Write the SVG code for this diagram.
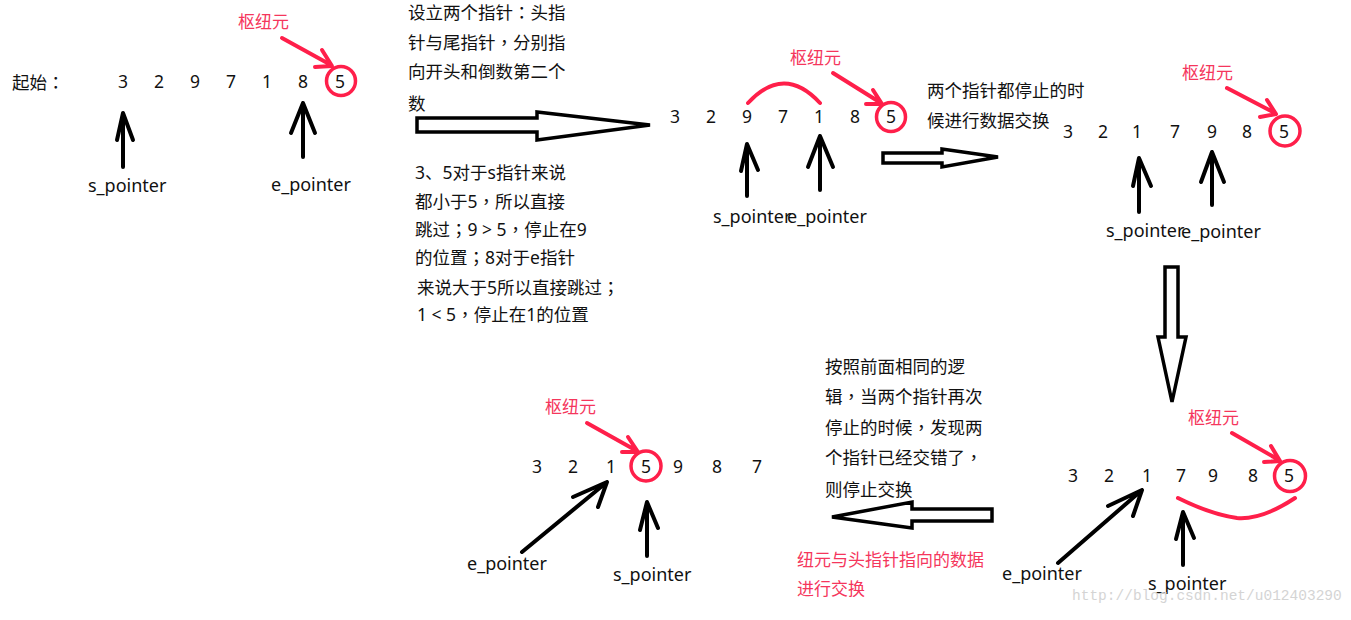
<svg xmlns="http://www.w3.org/2000/svg" width="1351" height="620" viewBox="0 0 1351 620">
<style>
.t{font-family:"Noto Sans","Noto Sans CJK SC",sans-serif;font-size:17.5px;fill:#111}
.p{font-family:"Noto Sans CJK TC","Noto Sans CJK SC",sans-serif}
.n{font-family:"Noto Sans","Noto Sans CJK SC",sans-serif;font-size:17.5px;fill:#111;text-anchor:middle}
.lb{font-family:"Noto Sans","Noto Sans CJK SC",sans-serif;font-size:18px;fill:#111}
.r{font-family:"Noto Sans","Noto Sans CJK SC",sans-serif;font-size:17px;fill:#f5365c}
.pa{fill:none;stroke:#000;stroke-width:4;stroke-linecap:round;stroke-linejoin:round}
.ra{fill:none;stroke:#ff1f4a;stroke-width:4;stroke-linecap:round;stroke-linejoin:round}
.rc{fill:none;stroke:#ff1f4a;stroke-width:3.5}
.big{fill:#fff;stroke:#000;stroke-width:3.5;stroke-linejoin:miter}
.wm{font-family:"Liberation Mono",monospace;font-size:14.5px;fill:#d4d4d4}
</style>
<rect width="1351" height="620" fill="#fff"/>

<g id="step1">
  <text class="t" x="12" y="89">起始<tspan class="p">：</tspan></text>
  <text class="n" y="88"><tspan x="123">3</tspan><tspan x="159">2</tspan><tspan x="195">9</tspan><tspan x="231">7</tspan><tspan x="267">1</tspan><tspan x="303">8</tspan><tspan x="340">5</tspan></text>
  <circle class="rc" cx="341" cy="81" r="14.5"/>
  <text class="r" x="238" y="28">枢纽元</text>
  <path class="ra" d="M282 38 L331 65 M322 50 L332 66 L315 67"/>
  <path class="pa" d="M123 167 V113 M117 140 L123 113 L133 140"/>
  <path class="pa" d="M303 157 V103 M291 133 L303 103 L315 133"/>
  <text class="lb" x="88" y="192">s_pointer</text>
  <text class="lb" x="271" y="191">e_pointer</text>
</g>

<g id="note1">
  <text class="t" x="408" y="19">设立两个指针<tspan class="p">：</tspan>头指</text>
  <text class="t" x="408" y="49">针与尾指针<tspan class="p">，</tspan>分别指</text>
  <text class="t" x="408" y="78">向开头和倒数第二个</text>
  <text class="t" x="408" y="110">数</text>
  <text class="t" x="415" y="179">3、5对于s指针来说</text>
  <text class="t" x="415" y="208">都小于5<tspan class="p">，</tspan>所以直接</text>
  <text class="t" x="415" y="236">跳过<tspan class="p">；</tspan>9 &gt; 5<tspan class="p">，</tspan>停止在9</text>
  <text class="t" x="415" y="264">的位置<tspan class="p">；</tspan>8对于e指针</text>
  <text class="t" x="417" y="294">来说大于5所以直接跳过<tspan class="p">；</tspan></text>
  <text class="t" x="417" y="321">1 &lt; 5<tspan class="p">，</tspan>停止在1的位置</text>
</g>

<g id="step2">
  <text class="n" y="123"><tspan x="675">3</tspan><tspan x="711">2</tspan><tspan x="747">9</tspan><tspan x="783">7</tspan><tspan x="819">1</tspan><tspan x="855">8</tspan><tspan x="891">5</tspan></text>
  <circle class="rc" cx="891" cy="117" r="14.5"/>
  <text class="r" x="790" y="64">枢纽元</text>
  <path class="ra" d="M833 73 L881 103 M873 90 L882 104 L866 104"/>
  <path class="ra" d="M748 103 Q784 64 820 103"/>
  <path class="pa" d="M747 196 V144 M741 171 L747 144 L758 170"/>
  <path class="pa" d="M820 190 V136 M808 167 L820 136 L833 167"/>
  <text class="lb" x="787" y="223">e_pointer</text>
  <text class="lb" x="713" y="223">s_pointer</text>
  <text class="t" x="927" y="97">两个指针都停止的时</text>
  <text class="t" x="927" y="127">候进行数据交换</text>
</g>

<g id="step3">
  <text class="n" y="138"><tspan x="1068">3</tspan><tspan x="1103">2</tspan><tspan x="1137">1</tspan><tspan x="1175">7</tspan><tspan x="1212">9</tspan><tspan x="1247">8</tspan><tspan x="1284">5</tspan></text>
  <circle class="rc" cx="1285" cy="131" r="15"/>
  <text class="r" x="1182" y="79">枢纽元</text>
  <path class="ra" d="M1227 88 L1275 113 M1267 100 L1276 114 L1260 117"/>
  <path class="pa" d="M1139 212 V158 M1133 186 L1139 158 L1151 186"/>
  <path class="pa" d="M1212 205 V152 M1201 182 L1212 152 L1224 182"/>
  <text class="lb" x="1181" y="238">e_pointer</text>
  <text class="lb" x="1106" y="237">s_pointer</text>
</g>

<g id="step4">
  <text class="n" y="482"><tspan x="1073">3</tspan><tspan x="1109">2</tspan><tspan x="1147">1</tspan><tspan x="1181">7</tspan><tspan x="1213">9</tspan><tspan x="1253">8</tspan><tspan x="1289">5</tspan></text>
  <circle class="rc" cx="1290" cy="476" r="15.5"/>
  <text class="r" x="1188" y="424">枢纽元</text>
  <path class="ra" d="M1232 433 L1279 460 M1271 446 L1280 461 L1264 462"/>
  <path class="ra" d="M1178 498 Q1210 514 1237 518 Q1262 520 1295 498"/>
  <path class="pa" d="M1058 563 L1142 490 M1108 506 L1142 490 L1133 516"/>
  <path class="pa" d="M1183 565 V512 M1176 539 L1183 512 L1194 538"/>
  <text class="lb" x="1002" y="580">e_pointer</text>
  <text class="lb" x="1148" y="590">s_pointer</text>
</g>

<g id="note2">
  <text class="t" x="825" y="373">按照前面相同的逻</text>
  <text class="t" x="825" y="403">辑<tspan class="p">，</tspan>当两个指针再次</text>
  <text class="t" x="825" y="434">停止的时候<tspan class="p">，</tspan>发现两</text>
  <text class="t" x="825" y="464">个指针已经交错了<tspan class="p">，</tspan></text>
  <text class="t" x="825" y="496">则停止交换</text>
  <text class="r" x="797" y="566">纽元与头指针指向的数据</text>
  <text class="r" x="797" y="595">进行交换</text>
</g>

<g id="step5">
  <text class="n" y="473"><tspan x="537">3</tspan><tspan x="573">2</tspan><tspan x="611">1</tspan><tspan x="646">5</tspan><tspan x="678">9</tspan><tspan x="717">8</tspan><tspan x="757">7</tspan></text>
  <circle class="rc" cx="646" cy="466" r="15"/>
  <text class="r" x="545" y="413">枢纽元</text>
  <path class="ra" d="M587 423 L637 451 M628 437 L638 452 L622 452"/>
  <path class="pa" d="M522 552 L607 482 M573 497 L607 482 L598 507"/>
  <path class="pa" d="M647 556 V502 M640 530 L647 502 L658 528"/>
  <text class="lb" x="467" y="570">e_pointer</text>
  <text class="lb" x="613" y="581">s_pointer</text>
</g>

<g id="connectors">
  <polygon class="big" points="417,118 537,118 537,112 650,125 537,140 537,132 417,132"/>
  <polygon class="big" points="883,153 942,153 942,149 998,157 942,167 942,163 883,163"/>
  <polygon class="big" points="1165,267 1178,267 1178,337 1186,337 1172,402 1158,337 1165,337"/>
  <polygon class="big" points="992,509 912,509 912,502 832,517 912,528 912,521 992,521"/>
</g>

<text class="wm" x="1072" y="600">http://blog.csdn.net/u012403290</text>
</svg>
